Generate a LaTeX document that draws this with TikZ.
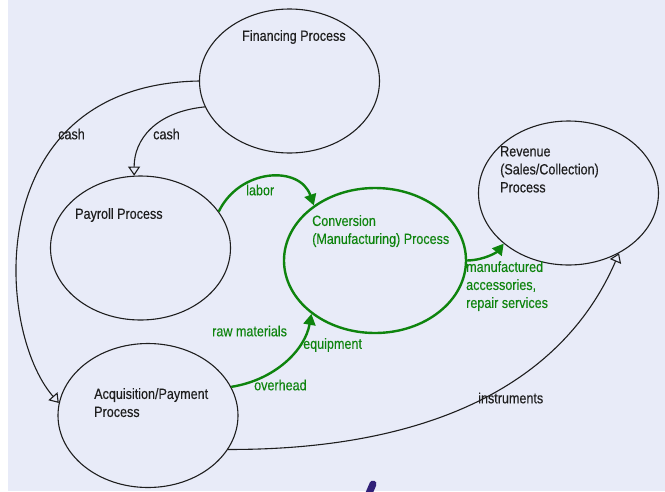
\documentclass[tikz,border=0pt]{standalone}
\usepackage{fontspec}
\setmainfont{Liberation Sans}
\newfontfamily\labelfont[FakeStretch=0.85, FakeBold=0.25]{Liberation Sans}
\usetikzlibrary{shapes.geometric,arrows.meta}
\definecolor{paper}{RGB}{232,235,248}
\definecolor{flowgreen}{RGB}{14,132,14}
\definecolor{ink}{RGB}{30,30,30}
\definecolor{penmark}{RGB}{48,32,120}
\tikzset{
  process/.style={ellipse, draw=ink, line width=1.1pt, minimum width=180pt, minimum height=144pt, inner sep=0pt},
  mainprocess/.style={process, draw=flowgreen, line width=2.4pt, minimum width=182pt, minimum height=145pt},
  caption/.style={font=\labelfont\fontsize{14.8}{18}\selectfont, text=ink, inner sep=0pt, align=left},
  gcaption/.style={caption, text=flowgreen},
  cashflow/.style={draw=ink, line width=1.1pt, -{Triangle[open, width=12pt, length=9pt, line width=1.1pt]}},
  goodsflow/.style={draw=flowgreen, line width=2.4pt, -{Triangle[width=12pt, length=11pt]}}
}
\begin{document}
\begin{tikzpicture}[x=1pt, y=-1pt]
  \useasboundingbox (0,0) rectangle (665,491);
  \fill[white] (0,0) rectangle (665,491);
  \fill[paper] (8,0) rectangle (665,491);

  % processes
  \node[process] (fin) at (289.5,81) {};
  \node[process] (pay) at (140.5,248) {};
  \node[mainprocess] (conv) at (375,260.5) {};
  \node[process] (rev) at (568.5,193) {};
  \node[process] (acq) at (148,415.5) {};

  % process names
  \node[caption, anchor=west] (tfin) at (242,37) {Financing Process};
  \node[caption, anchor=west] (tpay) at (75,215) {Payroll Process};
  \node[gcaption, anchor=north west] (tconv) at (312,215) {Conversion\\(Manufacturing) Process};
  \node[caption, anchor=north west] (trev) at (500,146) {Revenue\\(Sales/Collection)\\Process};
  \node[caption, anchor=north west] (tacq) at (94,388) {Acquisition/Payment\\Process};

  % flow labels
  \node[caption, anchor=west] (lcash1) at (58,134) {cash};
  \node[caption, anchor=west] (lcash2) at (153,134) {cash};
  \node[gcaption, anchor=west] (llabor) at (246,190) {labor};
  \node[gcaption, anchor=north west] (lmanu) at (466,261) {manufactured\\accessories,\\repair services};
  \node[gcaption, anchor=west] (lraw) at (212,331) {raw materials};
  \node[gcaption, anchor=west] (lequip) at (303,345) {equipment};
  \node[gcaption, anchor=west] (lover) at (254,385) {overhead};
  \node[caption, anchor=west] (linst) at (478,398) {instruments};

  % cash flows
  \draw[cashflow] (fin.180) .. controls (-20,85) and (-5,330) .. (acq.172);
  \draw[cashflow] (fin.197) .. controls (155,112) and (134,140) .. (pay.95);
  \draw[cashflow] (acq.337) .. controls (420,450) and (560,390) .. (rev.310);

  % flows of goods and services
  \draw[goodsflow] (pay.25) .. controls (240,168) and (300,165) .. (conv.138);
  \draw[goodsflow] (acq.19) .. controls (275,380) and (305,350) .. (conv.220);
  \draw[goodsflow] (conv.0) .. controls (485,260) and (497,252) .. (rev.218);

  % stray pen mark at the foot
  \begin{scope}
    \clip (0,0) rectangle (665,491);
    \draw[penmark, line width=7pt, line cap=round] (373,484) -- (367,498);
  \end{scope}
\end{tikzpicture}
\end{document}
